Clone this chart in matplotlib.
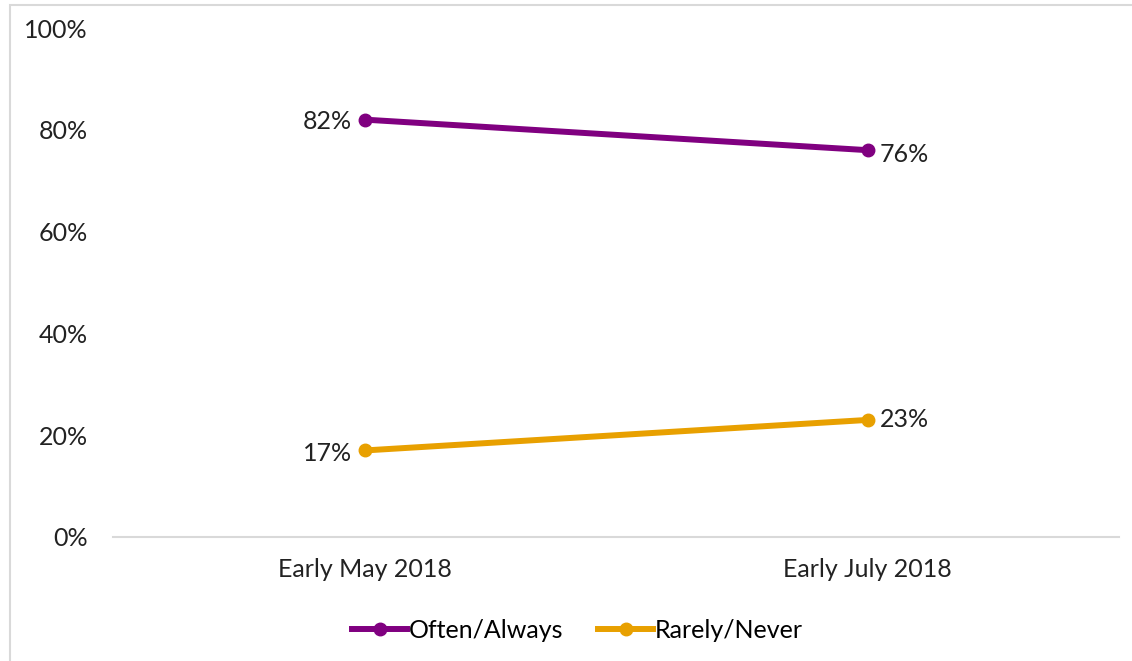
import matplotlib
matplotlib.use("Agg")
import matplotlib.pyplot as plt
from matplotlib.patches import Rectangle

periods = ["Early May 2018", "Early July 2018"]
often_always = [82, 76]
rarely_never = [17, 23]
series_names = ["Often/Always", "Rarely/Never"]
y_ticks = [0, 20, 40, 60, 80, 100]

plt.rcParams['font.family'] = ['Lato', 'DejaVu Sans']

fig = plt.figure(figsize=(11.32, 6.61), dpi=100)
# light frame around the chart area
fig.patches.append(Rectangle((10 / 1132, -0.1), 1.2, 1 - 5 / 661 + 0.1,
                             transform=fig.transFigure, fill=False,
                             edgecolor="#d9d9d9", linewidth=1.5))

ax = fig.add_axes([113 / 1132, 1 - 537 / 661, (1119 - 113) / 1132, (537 - 28) / 661])
x = list(range(len(periods)))
purple, orange = "#800080", "#E8A000"
ax.plot(x, often_always, color=purple, lw=4.3, marker="o", ms=9, label=series_names[0], zorder=3)
ax.plot(x, rarely_never, color=orange, lw=4.3, marker="o", ms=9, label=series_names[1], zorder=3)

fs = 18
ax.set_xlim(-0.5, 1.5)
ax.set_ylim(0, 100)
ax.set_xticks(x)
ax.set_xticklabels(periods, fontsize=fs, color="#222222")
ax.set_yticks(y_ticks)
ax.set_yticklabels([f"{v}%" for v in y_ticks], fontsize=fs, color="#222222")
ax.tick_params(length=0)
ax.tick_params(axis="y", pad=18)
ax.tick_params(axis="x", pad=15)
for s in ["top", "right", "left"]:
    ax.spines[s].set_visible(False)
ax.spines["bottom"].set_color("#d9d9d9")
ax.spines["bottom"].set_linewidth(1.5)

# data labels
lbl = dict(fontsize=fs, color="#222222")
ax.annotate(f"{often_always[0]}%", (0, often_always[0]), xytext=(-9, -1), textcoords="offset points", ha="right", va="center", **lbl)
ax.annotate(f"{often_always[1]}%", (1, often_always[1]), xytext=(9, -3), textcoords="offset points", ha="left", va="center", **lbl)
ax.annotate(f"{rarely_never[0]}%", (0, rarely_never[0]), xytext=(-9, -2), textcoords="offset points", ha="right", va="center", **lbl)
ax.annotate(f"{rarely_never[1]}%", (1, rarely_never[1]), xytext=(9, 0), textcoords="offset points", ha="left", va="center", **lbl)

fig.legend(loc="center", bbox_to_anchor=(0.51, 1 - 630 / 661), ncol=2, frameon=False,
           fontsize=fs, handlelength=2.2, handletextpad=0.05, columnspacing=1.4)

fig.savefig("out.png", dpi=100)
